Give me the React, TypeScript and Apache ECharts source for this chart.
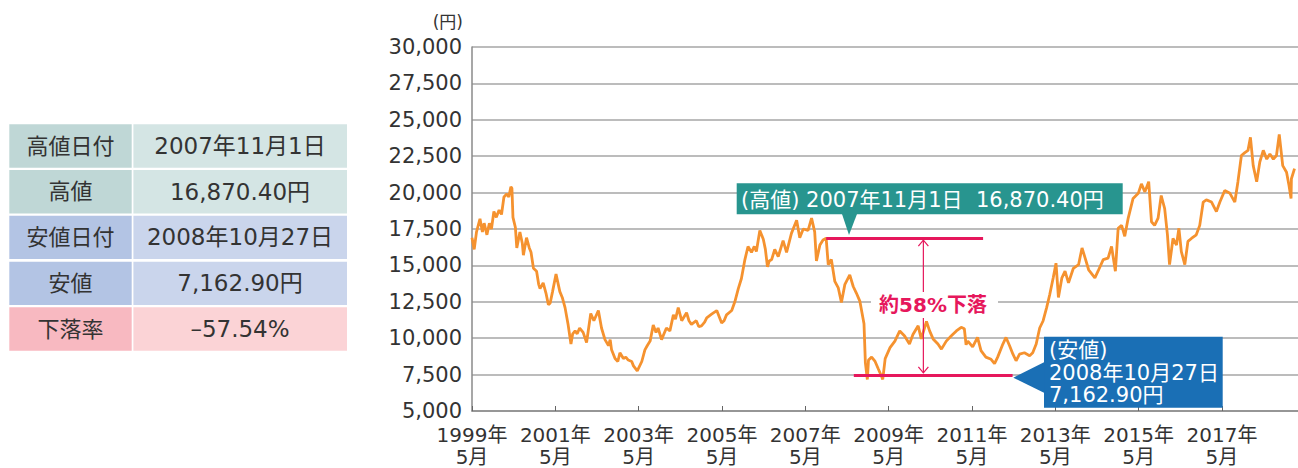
import React, { useEffect, useRef } from 'react';
import * as echarts from 'echarts';

// ---- data ----
const dates: string[] = [
  '1999-05-01','1999-05-20','1999-06-10','1999-07-10','1999-08-01','1999-08-16','1999-09-10','1999-10-01','1999-10-19','1999-11-10','1999-12-01','1999-12-25',
  '2000-01-16','2000-02-07','2000-03-01','2000-03-19','2000-04-07','2000-04-16','2000-04-25','2000-05-16','2000-05-28','2000-06-25','2000-07-16','2000-07-25','2000-08-22','2000-09-16','2000-10-01','2000-10-22','2000-11-19','2000-12-07','2000-12-19',
  '2001-01-16','2001-02-10','2001-03-01','2001-03-16','2001-04-07','2001-05-07','2001-06-10','2001-07-01','2001-07-25','2001-08-22','2001-09-16','2001-10-01','2001-10-22','2001-11-10','2001-12-01',
  '2002-01-01','2002-02-01','2002-03-07','2002-04-04','2002-05-13','2002-06-10','2002-07-10','2002-08-10','2002-08-25','2002-09-07','2002-10-07','2002-11-01','2002-11-19','2002-12-19',
  '2003-01-10','2003-02-01','2003-03-01','2003-03-16','2003-04-19','2003-05-28','2003-06-25','2003-07-16','2003-08-10','2003-09-07','2003-10-01','2003-10-19','2003-11-19','2003-12-10',
  '2004-01-01','2004-02-01','2004-03-01','2004-03-19','2004-04-13','2004-05-13','2004-06-25','2004-07-16','2004-08-07','2004-09-19','2004-10-10','2004-11-04','2004-12-01','2004-12-19',
  '2005-02-01','2005-03-16','2005-04-28','2005-05-19','2005-06-10','2005-07-25','2005-08-22','2005-09-22','2005-10-19','2005-11-19','2005-12-16',
  '2006-01-16','2006-02-10','2006-02-28','2006-03-28','2006-04-28','2006-05-16','2006-06-04','2006-06-19','2006-07-10','2006-08-07','2006-09-07','2006-10-19','2006-11-19',
  '2007-01-01','2007-02-16','2007-03-13','2007-04-13','2007-05-25','2007-06-25','2007-07-22','2007-08-07','2007-09-07','2007-10-04','2007-11-01','2007-11-19','2007-12-16',
  '2008-01-16','2008-02-16','2008-03-13','2008-04-13','2008-05-25','2008-06-25','2008-07-22','2008-08-22','2008-09-13','2008-09-28','2008-10-10','2008-10-27','2008-11-07','2008-12-04',
  '2009-01-04','2009-02-01','2009-03-01','2009-03-10','2009-04-01','2009-05-13','2009-06-25','2009-08-07','2009-09-19','2009-11-01','2009-12-01',
  '2010-01-16','2010-02-13','2010-03-28','2010-04-25','2010-05-25','2010-07-07','2010-08-07','2010-09-19','2010-11-01','2010-12-16',
  '2011-01-28','2011-02-25','2011-03-10','2011-03-25','2011-05-07','2011-06-19','2011-07-19','2011-09-01','2011-10-16','2011-11-16','2011-12-13',
  '2012-01-28','2012-02-25','2012-03-25','2012-04-25','2012-05-22','2012-06-22','2012-08-04','2012-09-19','2012-10-16','2012-11-16','2012-12-16',
  '2013-01-16','2013-02-16','2013-03-13','2013-04-13','2013-05-07','2013-05-28','2013-06-28','2013-07-25','2013-08-25','2013-10-07','2013-11-22','2013-12-22',
  '2014-01-19','2014-02-19','2014-04-13','2014-05-10','2014-06-25','2014-08-07','2014-09-07','2014-10-10','2014-11-04','2014-12-04',
  '2015-01-01','2015-02-01','2015-03-13','2015-04-28','2015-05-25','2015-06-25','2015-07-28','2015-08-22','2015-09-19','2015-10-19','2015-11-16','2015-12-16',
  '2016-01-10','2016-01-28','2016-02-28','2016-03-28','2016-04-19','2016-05-10','2016-06-10','2016-07-07','2016-08-07','2016-09-19','2016-10-19','2016-11-19','2016-12-16',
  '2017-02-01','2017-03-13','2017-04-13','2017-05-25','2017-07-10','2017-08-22','2017-09-19','2017-10-19','2017-11-19','2017-12-16',
  '2018-01-07','2018-02-01','2018-03-01','2018-03-28','2018-04-28','2018-05-28','2018-06-25','2018-07-25','2018-08-22','2018-09-16','2018-10-16','2018-11-19','2018-12-10','2018-12-28',
  '2019-01-01','2019-01-28',
];

const prices: number[] = [
  16900,16100,17300,18200,17300,17900,17100,17900,17500,18700,18300,18800,
  18500,19700,19900,19700,20400,20300,18300,17600,16200,17300,16500,15700,16900,16200,15900,14800,14600,13700,13400,
  13800,13100,12300,12400,13200,14400,13200,12800,12100,10900,9600,10300,10500,10300,10700,
  10400,9700,11700,11200,11900,10700,9900,9500,9900,9200,8600,8400,9000,8600,
  8700,8500,8400,8100,7750,8400,9200,9500,9800,10900,10400,10700,9900,10300,
  10700,10500,11600,11300,12100,11200,11750,11200,10950,11200,10800,10850,11100,11400,
  11650,11900,11050,11200,11600,11900,12500,13400,14100,15400,16300,
  15900,16300,15950,17400,16800,16100,14900,15300,15400,16100,15600,16700,15900,
  17200,18100,16900,17500,17400,18250,17300,15300,16400,16750,16870,15050,15400,
  13900,13450,12450,13700,14350,13550,13100,12550,11650,11000,8300,7163,8500,8700,
  8400,7900,7350,7170,8600,9350,9800,10500,10150,9600,10250,
  10850,9950,11150,10500,9950,9600,9250,9800,10150,10500,
  10750,10650,9550,9800,9400,10050,9150,8700,8550,8250,8700,
  9600,10050,9500,8900,8450,8900,9000,8800,9000,9600,10700,
  11200,12100,13000,14150,15150,12800,14150,14600,13800,14800,15050,16200,
  15500,14700,14150,14600,15400,15500,16300,14600,17550,17750,
  17000,18250,19600,19950,20600,20050,20750,18000,17750,18250,19800,18900,
  17100,15050,16850,16400,17550,15950,15050,16650,16850,17100,17750,19350,19500,
  19350,18700,19350,20150,19950,19350,20750,22550,22750,22900,
  23800,21850,20750,22100,22900,22300,22650,22300,22550,24000,21850,21400,20500,19600,
  20950,21650,
];

const yMin = 5000;
const yMax = 30000;
const yInterval = 2500;
const startYear = 1999;
const startMonth = 5;
const xMaxMonths = 237.9;
const labelIntervalMonths = 24;

const highDate = '2007-11-01';
const highValue = 16870.4;
const lowDate = '2008-10-27';
const lowValue = 7162.9;
const dropText = '約58%下落';

const tableLabels = ['高値日付', '高値', '安値日付', '安値', '下落率'];
const tableValues = ['2007年11月1日', '16,870.40円', '2008年10月27日', '7,162.90円', '–57.54%'];

// ---- helpers ----
const monthIndex = (s: string) => {
  const [y, m, d] = s.split('-').map(Number);
  return (y - startYear) * 12 + (m - startMonth) + (d - 1) / 30;
};

const FONT = "'DejaVu Sans', 'Noto Sans CJK JP', sans-serif";
const TEXT = '#333333';
const ORANGE = '#f5922f';
const PINK = '#e6175c';
const TEAL = '#28958f';
const BLUE = '#1a6fb5';

const labelBg = ['#bfd7d6', '#bfd7d6', '#b3c4e4', '#b3c4e4', '#f8b9c1'];
const valueBg = ['#d4e5e4', '#d4e5e4', '#cad5ec', '#cad5ec', '#fbd3d6'];

export default function App() {
  const ref = useRef<HTMLDivElement>(null);

  useEffect(() => {
    if (!ref.current) return;
    const chart = echarts.init(ref.current, null, { renderer: 'svg' });
    const seriesData = dates.map((d, i) => [monthIndex(d), prices[i]]);
    const highX = monthIndex(highDate);
    const lowX = monthIndex(lowDate);
    const lowLineLevel = lowValue + 320; // drawn slightly above the low, as in the original

    chart.setOption({
      animation: false,
      grid: { left: 472, right: 0, top: 47, bottom: 54, containLabel: false },
      xAxis: {
        type: 'value',
        min: 0,
        max: xMaxMonths,
        interval: labelIntervalMonths,
        axisLine: { show: true, lineStyle: { color: '#8a8a8a', width: 1.5 } },
        axisTick: { show: true, inside: true, length: 5, lineStyle: { color: '#666', width: 1 } },
        splitLine: { show: false },
        axisLabel: {
          showMaxLabel: false,
          margin: 13,
          color: TEXT,
          fontFamily: FONT,
          fontSize: 20,
          lineHeight: 22,
          formatter: (v: number) => {
            const y = startYear + Math.round(v / 12);
            return `${y}年\n${startMonth}月`;
          },
        },
      },
      yAxis: {
        type: 'value',
        min: yMin,
        max: yMax,
        interval: yInterval,
        axisLine: { show: true, lineStyle: { color: '#8a8a8a', width: 1.5 } },
        axisTick: { show: false },
        splitLine: { show: true, lineStyle: { color: '#a6a6a6', width: 1.5 } },
        axisLabel: {
          margin: 10,
          color: TEXT,
          fontFamily: FONT,
          fontSize: 21,
          formatter: (v: number) => v.toLocaleString('en-US'),
        },
      },
      series: [
        {
          type: 'line',
          data: seriesData,
          showSymbol: false,
          symbol: 'none',
          lineStyle: { color: ORANGE, width: 2.8 },
          z: 3,
          markLine: {
            silent: true,
            symbol: 'none',
            label: { show: false },
            lineStyle: { color: PINK, width: 3, type: 'solid' },
            data: [
              [{ coord: [highX, highValue] }, { coord: [147.2, highValue] }],
              [{ coord: [lowX - 3.9, lowLineLevel] }, { coord: [155.7, lowLineLevel] }],
            ],
          },
        },
      ],
    });

    const toPx = (x: number, y: number) =>
      chart.convertToPixel({ xAxisIndex: 0, yAxisIndex: 0 }, [x, y]) as number[];
    const arrowX = toPx(130, highValue)[0];
    const topY = toPx(130, highValue)[1] + 2;
    const botY = toPx(130, lowLineLevel)[1] - 2;

    const graphics: any[] = [];
    // table
    const rowTops = [124.3, 170, 215.7, 261.7, 307.3];
    tableLabels.forEach((lab, i) => {
      const y = rowTops[i];
      graphics.push({ type: 'rect', shape: { x: 9.3, y, width: 122.4, height: 43.4 }, style: { fill: labelBg[i] } });
      graphics.push({ type: 'rect', shape: { x: 133.4, y, width: 213.6, height: 43.4 }, style: { fill: valueBg[i] } });
      graphics.push({
        type: 'text', x: 70.5, y: y + 21.7,
        style: { text: lab, fill: TEXT, fontFamily: FONT, fontSize: 22, align: 'center', verticalAlign: 'middle' },
      });
      graphics.push({
        type: 'text', x: 240, y: y + 21.7,
        style: { text: tableValues[i], fill: TEXT, fontFamily: FONT, fontSize: 23, align: 'center', verticalAlign: 'middle' },
      });
    });
    // unit
    graphics.push({
      type: 'text', x: 463, y: 22,
      style: { text: '(円)', fill: TEXT, fontFamily: FONT, fontSize: 17, align: 'right', verticalAlign: 'middle' },
    });
    // arrow
    graphics.push({ type: 'line', z: 50, shape: { x1: arrowX, y1: topY, x2: arrowX, y2: botY }, style: { stroke: PINK, lineWidth: 1.2 } });
    graphics.push({ type: 'polyline', z: 50, shape: { points: [[arrowX - 5, topY + 6], [arrowX, topY], [arrowX + 5, topY + 6]] }, style: { stroke: PINK, lineWidth: 1.2, fill: null } });
    graphics.push({ type: 'polyline', z: 50, shape: { points: [[arrowX - 5, botY - 6], [arrowX, botY], [arrowX + 5, botY - 6]] }, style: { stroke: PINK, lineWidth: 1.2, fill: null } });
    // drop label
    graphics.push({ type: 'rect', z: 60, shape: { x: 871, y: 292, width: 127, height: 26 }, style: { fill: '#ffffff' } });
    graphics.push({
      type: 'text', z: 61, x: 933, y: 305,
      style: { text: dropText, fill: PINK, fontFamily: FONT, fontSize: 20, fontWeight: 'bold', align: 'center', verticalAlign: 'middle' },
    });
    // high callout
    graphics.push({ type: 'rect', z: 60, shape: { x: 736.7, y: 183.3, width: 386, height: 31 }, style: { fill: TEAL } });
    graphics.push({ type: 'polygon', z: 60, shape: { points: [[842, 214], [857, 214], [849, 235]] }, style: { fill: TEAL } });
    graphics.push({
      type: 'text', z: 61, x: 741, y: 199.5,
      style: { text: `(高値) 2007年11月1日  16,870.40円`, fill: '#ffffff', fontFamily: FONT, fontSize: 21, align: 'left', verticalAlign: 'middle' },
    });
    // low callout
    graphics.push({ type: 'rect', z: 60, shape: { x: 1044, y: 336.7, width: 178.7, height: 71 }, style: { fill: BLUE } });
    graphics.push({ type: 'polygon', z: 60, shape: { points: [[1044.5, 362], [1044.5, 393], [1013.3, 377.7]] }, style: { fill: BLUE } });
    ['(安値)', '2008年10月27日', '7,162.90円'].forEach((t, i) => {
      graphics.push({
        type: 'text', z: 61, x: 1049, y: 350 + i * 22.5,
        style: { text: t, fill: '#ffffff', fontFamily: FONT, fontSize: 21, align: 'left', verticalAlign: 'middle' },
      });
    });

    chart.setOption({ graphic: graphics });

    return () => chart.dispose();
  }, []);

  return (
    <div
      ref={ref}
      style={{ position: 'fixed', left: 0, top: 0, width: 1298, height: 468, background: '#ffffff' }}
    />
  );
}
